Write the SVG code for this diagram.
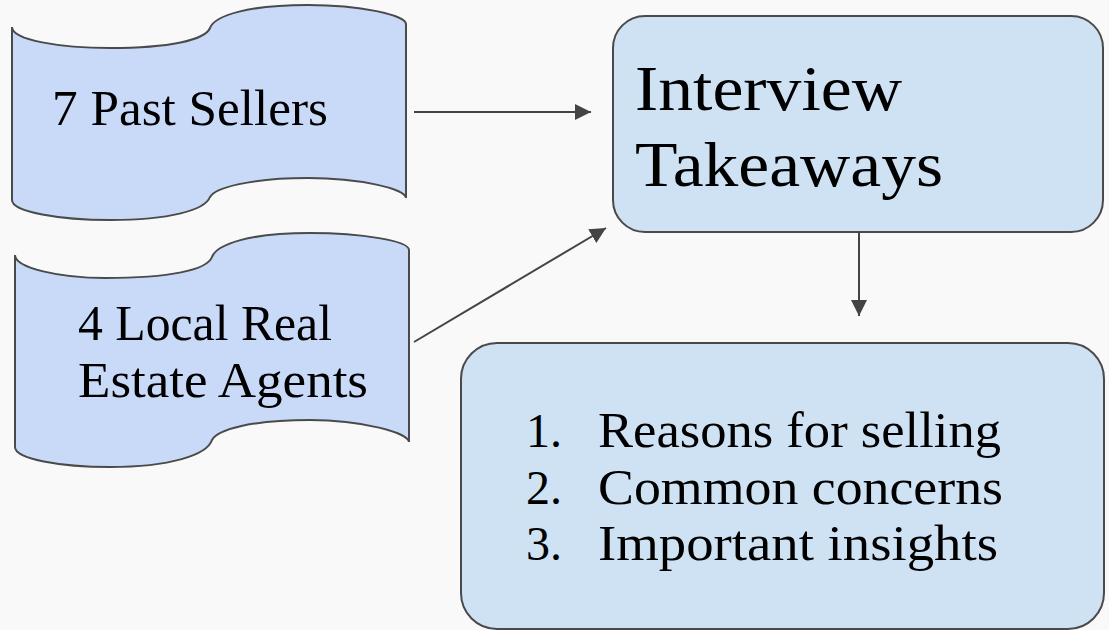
<svg xmlns="http://www.w3.org/2000/svg" width="1109" height="630" viewBox="0 0 1109 630">
<style>
.tape{fill:#c9daf8;stroke:#4a4a4a;stroke-width:2}
.box{fill:#cfe2f3;stroke:#4a4a4a;stroke-width:2}
.t{font-family:"Liberation Serif","DejaVu Serif",serif;fill:#000}
.c{stroke:#444;stroke-width:2;fill:none}
</style>
<defs>
<marker id="ah" viewBox="0 0 10 10" refX="10" refY="5" markerWidth="8" markerHeight="8" markerUnits="userSpaceOnUse" orient="auto">
<path d="M0,0 L10,5 L0,10 Z" fill="#444"/>
</marker>
<marker id="ah2" viewBox="0 0 16 16" refX="16" refY="8" markerWidth="16" markerHeight="16" markerUnits="userSpaceOnUse" orient="auto">
<path d="M0,0 L16,8 L0,16 Z" fill="#444"/>
</marker>
</defs>
<rect width="1109" height="630" fill="#f9f9f9"/>
<g id="past-sellers">
<path class="tape" d="M12,27 C12,40 60,48 110,48 C170,48 205,40 210,28 C215,15 250,5 308,5 C360,5 406,15 406,24 L406,198 C406,189 360,178 308,178 C250,178 215,188 210,197 C205,210 170,220 110,220 C60,220 12,212 12,200 Z"/>
<text class="t" x="52" y="125" font-size="50" textLength="276" lengthAdjust="spacingAndGlyphs">7 Past Sellers</text>
</g>
<g id="agents">
<path class="tape" d="M15,255 C15,268 60,278 105,278 C170,278 207,270 212,257 C217,244 250,233 310,233 C362,233 409,241 409,250 L409,442 C409,433 362,420 310,420 C250,420 217,430 212,440 C207,455 170,467 110,467 C60,467 15,459 15,447 Z"/>
<text class="t" x="78" y="340" font-size="50" textLength="254" lengthAdjust="spacingAndGlyphs">4 Local Real</text>
<text class="t" x="78" y="397" font-size="50" textLength="290" lengthAdjust="spacingAndGlyphs">Estate Agents</text>
</g>
<g id="interview-takeaways">
<rect class="box" x="613" y="16" width="490" height="216" rx="32" ry="32"/>
<text class="t" x="635" y="110" font-size="64" textLength="267" lengthAdjust="spacingAndGlyphs">Interview</text>
<text class="t" x="635" y="186" font-size="64" textLength="308" lengthAdjust="spacingAndGlyphs">Takeaways</text>
</g>
<g id="takeaway-list">
<rect class="box" x="461" y="343" width="643" height="286" rx="36" ry="36"/>
<text class="t" x="526" y="447" font-size="48">1.</text>
<text class="t" x="526" y="504" font-size="48">2.</text>
<text class="t" x="526" y="560" font-size="48">3.</text>
<text class="t" x="598" y="447" font-size="50" textLength="403" lengthAdjust="spacingAndGlyphs">Reasons for selling</text>
<text class="t" x="598" y="504" font-size="50" textLength="405" lengthAdjust="spacingAndGlyphs">Common concerns</text>
<text class="t" x="598" y="560" font-size="50" textLength="400" lengthAdjust="spacingAndGlyphs">Important insights</text>
</g>
<g id="connectors">
<line class="c" x1="414" y1="112" x2="591" y2="112" marker-end="url(#ah2)"/>
<line class="c" x1="414" y1="342" x2="606" y2="228" marker-end="url(#ah2)"/>
<line class="c" x1="859" y1="232" x2="859" y2="316" marker-end="url(#ah2)"/>
</g>
</svg>
